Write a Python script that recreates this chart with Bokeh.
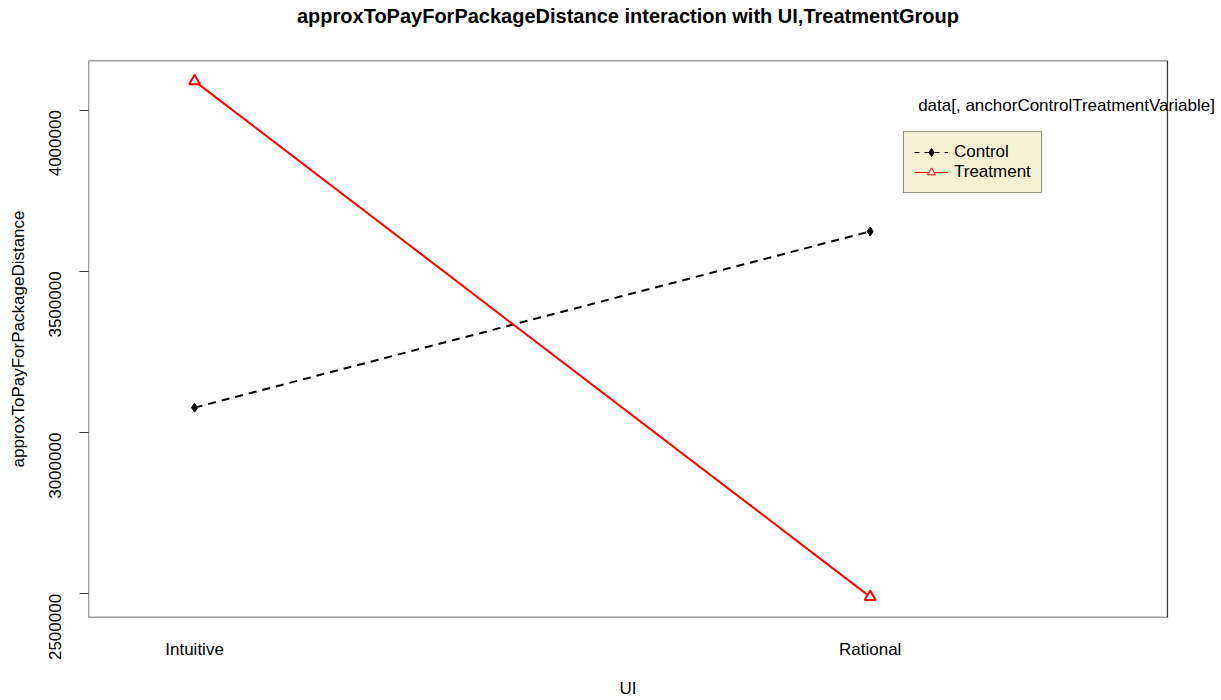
from bokeh.plotting import figure
from bokeh.models import (ColumnDataSource, FixedTicker, BasicTickFormatter,
                          Legend, LegendItem, Label, Range1d, BoxAnnotation, LinearAxis)
from bokeh.embed import file_html
from bokeh.resources import INLINE
import math

# mean approxToPayForPackageDistance per UI level and treatment group
ui_levels = ["Intuitive", "Rational"]
control_means = [3077500, 3624000]
treatment_means = [4090000, 2490700]
y_ticks = [2500000, 3000000, 3500000, 4000000]

TITLE = "approxToPayForPackageDistance interaction with UI,TreatmentGroup"
X_TITLE = "UI"
Y_TITLE = "approxToPayForPackageDistance"
KEY_TITLE = "data[, anchorControlTreatmentVariable]"

FONT = "Liberation Sans"
FRAME = "#3a3a3a"

xpos = [i + 1 for i in range(len(ui_levels))]
src_c = ColumnDataSource(dict(x=xpos, y=control_means, ui=ui_levels))
src_t = ColumnDataSource(dict(x=xpos, y=treatment_means, ui=ui_levels))

lo = min(control_means + treatment_means)
hi = max(control_means + treatment_means)
pad = 0.04 * (hi - lo)

# plotting box spans x in [x_lo, x_hi]; the canvas continues a little to the
# right of it so the key's heading can run past the box edge
x_lo, x_hi = 0.843, 2.44
x_end = x_hi + 54 / 675
x_mid = (x_lo + x_hi) / 2

p = figure(width=1221, height=700, output_backend="svg", toolbar_location=None,
           x_range=Range1d(x_lo, x_end), y_range=Range1d(lo - pad, hi + pad),
           min_border_left=88, min_border_right=0, min_border_top=60,
           min_border_bottom=83)
p.title = None

p.xgrid.visible = False
p.ygrid.visible = False
p.background_fill_color = "white"
p.border_fill_color = "white"
p.outline_line_color = None

xax = p.below[0]
yax = p.left[0]


def bare_axis(axis, text, size, style, standoff):
    """An axis with a single label centred over the plotting box and no rule."""
    axis.ticker = FixedTicker(ticks=[x_mid])
    axis.major_label_overrides = {x_mid: text}
    axis.major_tick_out = 0
    axis.major_tick_in = 0
    axis.minor_tick_out = 0
    axis.minor_tick_in = 0
    axis.axis_line_color = None
    axis.major_label_standoff = standoff
    axis.major_label_text_font = FONT
    axis.major_label_text_font_size = size
    axis.major_label_text_font_style = style
    axis.major_label_text_color = "#000000"
    return axis


# x axis: category names only
xax.ticker = FixedTicker(ticks=xpos)
xax.major_label_overrides = {x: s for x, s in zip(xpos, ui_levels)}
xax.major_tick_out = 0
xax.major_tick_in = 0
xax.minor_tick_out = 0
xax.minor_tick_in = 0
xax.axis_line_color = None
xax.major_label_standoff = 22

# y axis
yax.ticker = FixedTicker(ticks=y_ticks)
yax.formatter = BasicTickFormatter(use_scientific=False)
yax.major_label_orientation = math.pi / 2
yax.major_tick_out = 9
yax.major_tick_in = 0
yax.minor_tick_out = 0
yax.minor_tick_in = 0
yax.axis_line_color = None
yax.major_tick_line_color = FRAME
yax.major_label_standoff = 24
yax.axis_label = Y_TITLE
yax.axis_label_standoff = 13

for ax in (xax, yax):
    ax.major_label_text_font = FONT
    ax.major_label_text_font_size = "17px"
    ax.major_label_text_color = "#000000"
    ax.axis_label_text_font = FONT
    ax.axis_label_text_font_size = "17px"
    ax.axis_label_text_font_style = "normal"
    ax.axis_label_text_color = "#000000"

# main title above the box, x-axis title below it
p.add_layout(bare_axis(LinearAxis(), TITLE, "20px", "bold", 34), "above")
p.add_layout(bare_axis(LinearAxis(), X_TITLE, "17px", "normal", 17), "below")

# interaction lines
p.line("x", "y", source=src_c, line_color="black", line_width=2, line_dash="8 6")
p.scatter("x", "y", source=src_c, marker="diamond", size=9, color="black")
p.line("x", "y", source=src_t, line_color="#ff0000", line_width=2)
p.scatter("x", "y", source=src_t, marker="triangle", size=11, line_color="#ff0000",
          line_width=2, fill_color="white")

# key glyphs (thin lines as in the key); no visible data
nan = float("nan")
keysrc = ColumnDataSource(dict(x=[nan], y=[nan]))
lc = p.line("x", "y", source=keysrc, line_color="black", line_width=1, line_dash="5 5")
mc = p.scatter("x", "y", source=keysrc, marker="diamond", size=8, color="black")
lt = p.line("x", "y", source=keysrc, line_color="#ff0000", line_width=1)
mt = p.scatter("x", "y", source=keysrc, marker="triangle", size=10, line_color="#ff0000",
               line_width=1, fill_color="white")

legend = Legend(items=[LegendItem(label="Control", renderers=[lc, mc]),
                       LegendItem(label="Treatment", renderers=[lt, mt])],
                location=(815, 424), padding=10, spacing=0, margin=0,
                glyph_width=34, glyph_height=20, label_height=20,
                label_standoff=6, label_text_font=FONT, label_text_font_size="17px",
                label_text_color="#000000",
                background_fill_color="#f3f1d3", background_fill_alpha=1.0,
                border_line_color=FRAME, border_line_width=1)
p.add_layout(legend)

legend_title = Label(x=2.071, y=4015500, text=KEY_TITLE,
                     text_font=FONT, text_font_size="17px", text_baseline="middle",
                     text_color="#000000")
p.add_layout(legend_title)

# box around the plotting region
box = BoxAnnotation(left=x_lo, right=x_hi, bottom=lo - pad, top=hi + pad,
                    fill_alpha=0, line_color=FRAME, line_alpha=1.0, line_width=1.3)
p.add_layout(box)

open("out.html", "w").write(file_html(p, INLINE))
